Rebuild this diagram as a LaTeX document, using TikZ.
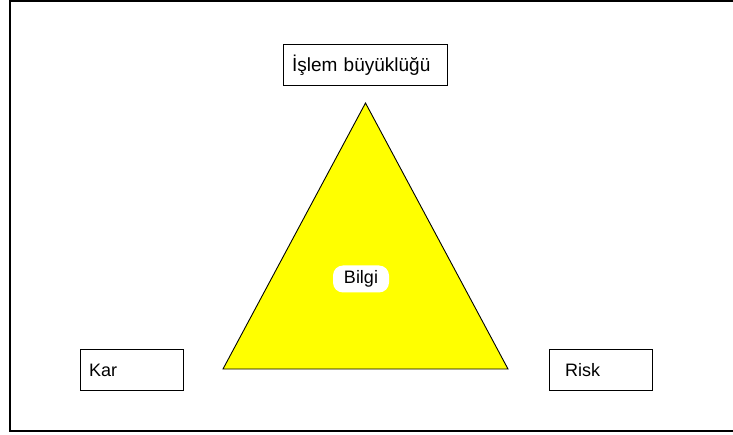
\documentclass[tikz,border=0pt]{standalone}
\usepackage{fontspec}
\setmainfont{Liberation Sans}
\usetikzlibrary{positioning}
\definecolor{triyellow}{RGB}{255,255,0}

\begin{document}
\begin{tikzpicture}[x=1pt, y=-1pt,
    every node/.style={font=\fontsize{18}{20}\selectfont},
    labelbox/.style={draw, line width=1pt, minimum height=41pt, inner xsep=9pt, align=left},
    blob/.style={fill=white, rounded corners=10pt, minimum width=56pt, minimum height=27pt, inner sep=2pt}]
  \useasboundingbox (0,0) rectangle (733,435);
  % frame, open to the right
  \draw[line width=2pt] (733,1) -- (10,1) -- (10,431) -- (733,431);
  % triangle
  \coordinate (apex)  at (365.5,103);
  \coordinate (left)  at (223,369);
  \coordinate (right) at (508,369);
  \filldraw[fill=triyellow, draw=black, line width=0.9pt] (apex) -- (left) -- (right) -- cycle;
  \node[blob] (bilgi) at (361,279) {Bilgi};
  % corner boxes
  \node[labelbox, text width=146pt, font=\fontsize{19}{21}\selectfont] (size) at (365,65) {İşlem büyüklüğü};
  \node[labelbox, text width=85pt]  (kar)  at (131.5,370) {Kar};
  \node[labelbox, text width=85pt]  (risk) at (600.5,370) {\hspace*{7pt}Risk};
\end{tikzpicture}
\end{document}
